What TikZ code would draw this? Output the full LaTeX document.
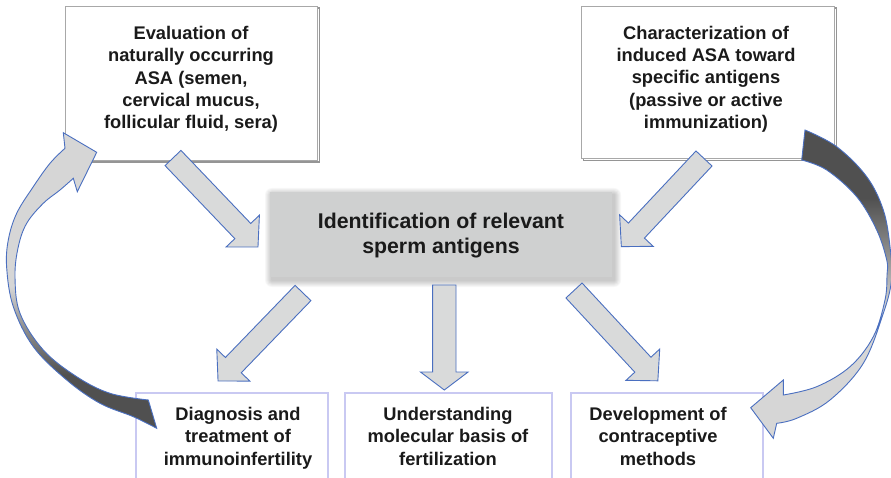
\documentclass[tikz,border=0pt]{standalone}
\usepackage{fontspec}
\setmainfont{Liberation Sans}
\usetikzlibrary{calc,shadows}
\definecolor{txt}{HTML}{1A1A1A}
\definecolor{arrfill}{HTML}{D9DADA}
\definecolor{arrline}{HTML}{4A6FC0}
\definecolor{boxline}{HTML}{A8A8A8}
\definecolor{shadowline}{HTML}{959595}
\definecolor{centerfill}{HTML}{CFD0D0}
\definecolor{lavender}{HTML}{C9C9F2}
\definecolor{darkrib}{HTML}{505050}
\definecolor{midrib}{HTML}{8F8F8F}
\definecolor{lightrib}{HTML}{D6D6D6}
\pgfdeclareverticalshading{ribL}{100bp}{color(0bp)=(darkrib); color(34bp)=(darkrib); color(42bp)=(midrib); color(49bp)=(lightrib); color(100bp)=(lightrib)}
\pgfdeclareverticalshading{ribR}{100bp}{color(0bp)=(lightrib); color(46bp)=(lightrib); color(55bp)=(midrib); color(64bp)=(darkrib); color(100bp)=(darkrib)}
\tikzset{
  topbox/.style={draw=boxline, line width=0.9pt, fill=white, inner sep=0pt,
    general shadow={shadow xshift=2.2pt, shadow yshift=-2.2pt, draw=shadowline, line width=1.4pt, fill=none}},
  botbox/.style={draw=lavender, line width=1.2pt, fill=none, inner sep=0pt},
  centerbox/.style={fill=centerfill, draw=none, inner sep=0pt},
  labelA/.style={font=\fontsize{18.3}{22.3}\selectfont\bfseries, text=txt, align=center, inner sep=0pt},
  labelB/.style={font=\fontsize{21.3}{25}\selectfont\bfseries, text=txt, align=center, inner sep=0pt},
  barrow/.style={fill=arrfill, draw=arrline, line width=0.9pt, line join=miter},
  ribbon/.style={draw=arrline, line width=0.9pt, line join=miter},
}
\newcommand\blockarrow[5]{%
  \path let \p1=(#1), \p2=(#2), \n1={atan2(\y2-\y1,\x2-\x1)}, \n2={veclen(\x2-\x1,\y2-\y1)} in
    \pgfextra{\xdef\baang{\n1}\xdef\balen{\n2}\xdef\bax{\x1}\xdef\bay{\y1}};
  \begin{scope}[shift={(\bax,\bay)}, rotate=\baang, x=1pt, y=1pt]
    \draw[barrow] (0,-#3) -- ({\balen-#5},-#3) -- ({\balen-#5},-#4) -- (\balen,0)
      -- ({\balen-#5},#4) -- ({\balen-#5},#3) -- (0,#3) -- cycle;
  \end{scope}}
\begin{document}
\begin{tikzpicture}[x=1pt,y=-1pt]
\useasboundingbox (0,0) rectangle (891,478);
\clip (0,0) rectangle (891,478);
\fill[white] (0,0) rectangle (891,478);

% top boxes
\node[topbox, minimum width=252pt, minimum height=154pt] (evalbox) at (191,83) {};
\node[topbox, minimum width=253pt, minimum height=152.5pt] (charbox) at (707.5,82.25) {};
\node[labelA] (evaltxt) at (191,79.5) {Evaluation of\\naturally occurring\\ASA (semen,\\cervical mucus,\\follicular fluid, sera)};
\node[labelA] (chartxt) at (706,79.2) {Characterization of\\induced ASA toward\\specific antigens\\(passive or active\\immunization)};

% center box with soft shadow
\foreach \s in {1,...,7}
  \fill[black, opacity=0.03, rounded corners=\s pt] ({272-\s},{195-\s}) rectangle ({614+\s},{280+\s});
\node[centerbox, minimum width=342pt, minimum height=85pt] (idbox) at (441,234.5) {};
\node[labelB] (idtxt) at (441,235.3) {Identification of relevant\\sperm antigens};

% bottom boxes
\node[botbox, minimum width=192pt, minimum height=92pt] (diagbox) at (232,439) {};
\node[botbox, minimum width=207pt, minimum height=92pt] (undbox) at (448.5,439) {};
\node[botbox, minimum width=192pt, minimum height=92pt] (devbox) at (667,439) {};
\node[labelA] (diagtxt) at (238,438.2) {Diagnosis and\\treatment of\\immunoinfertility};
\node[labelA] (undtxt) at (448,436.2) {Understanding\\molecular basis of\\fertilization};
\node[labelA] (devtxt) at (658,436.2) {Development of\\contraceptive\\methods};

% block arrows
\coordinate (a1t) at (173,158);   \coordinate (a1h) at (258,247);
\coordinate (a2t) at (704,158.5); \coordinate (a2h) at (621,247);
\coordinate (a3t) at (303,293);   \coordinate (a3h) at (218,381);
\coordinate (a4t) at (444.3,285); \coordinate (a4h) at (444.3,390);
\coordinate (a5t) at (574,290.5); \coordinate (a5h) at (658,381);
\blockarrow{a1t}{a1h}{11}{23}{22}
\blockarrow{a2t}{a2h}{11}{23}{22}
\blockarrow{a3t}{a3h}{11}{23}{22}
\blockarrow{a4t}{a4h}{11.7}{23.8}{18}
\blockarrow{a5t}{a5h}{11}{23}{22}

% left curved arrow
\shadedraw[ribbon, shading=ribL]
  plot[smooth, tension=0.6] coordinates {(156.7,428.3) (133.3,416.7) (100,403.3) (66.7,380) (33.3,346.7) (13.3,306.7) (6.7,268) (8.3,240) (16.7,213.3) (33.3,186.7) (50,163.3) (65,148.3)}
  -- (63.3,132.7) -- (96.7,152.3) -- (77.3,191.7) --
  plot[smooth, tension=0.6] coordinates {(73.3,178.3) (60,190) (43.3,203.3) (26.7,223.3) (18.3,246.7) (15,276.7) (20,313.3) (43.3,350) (76.7,376.7) (110,393.3) (148.3,400)}
  -- cycle;

% right curved arrow
\shadedraw[ribbon, shading=ribR]
  plot[smooth, tension=0.6] coordinates {(805,130) (836.7,146.7) (866.7,176.7) (883.3,210) (890,246.7) (891.5,280) (883.3,313.3) (863.3,363.3) (830,400) (796.7,418.3) (776.7,423.3)}
  -- (773.3,438.3) -- (750.7,407.7) -- (783.3,380) --
  plot[smooth, tension=0.6] coordinates {(783.3,395) (816.7,386.7) (850,366.7) (873.3,336.7) (885,300) (887,275) (886.7,260) (876.7,230) (856.7,196.7) (826.7,170) (801.7,160)}
  -- cycle;
\end{tikzpicture}
\end{document}
